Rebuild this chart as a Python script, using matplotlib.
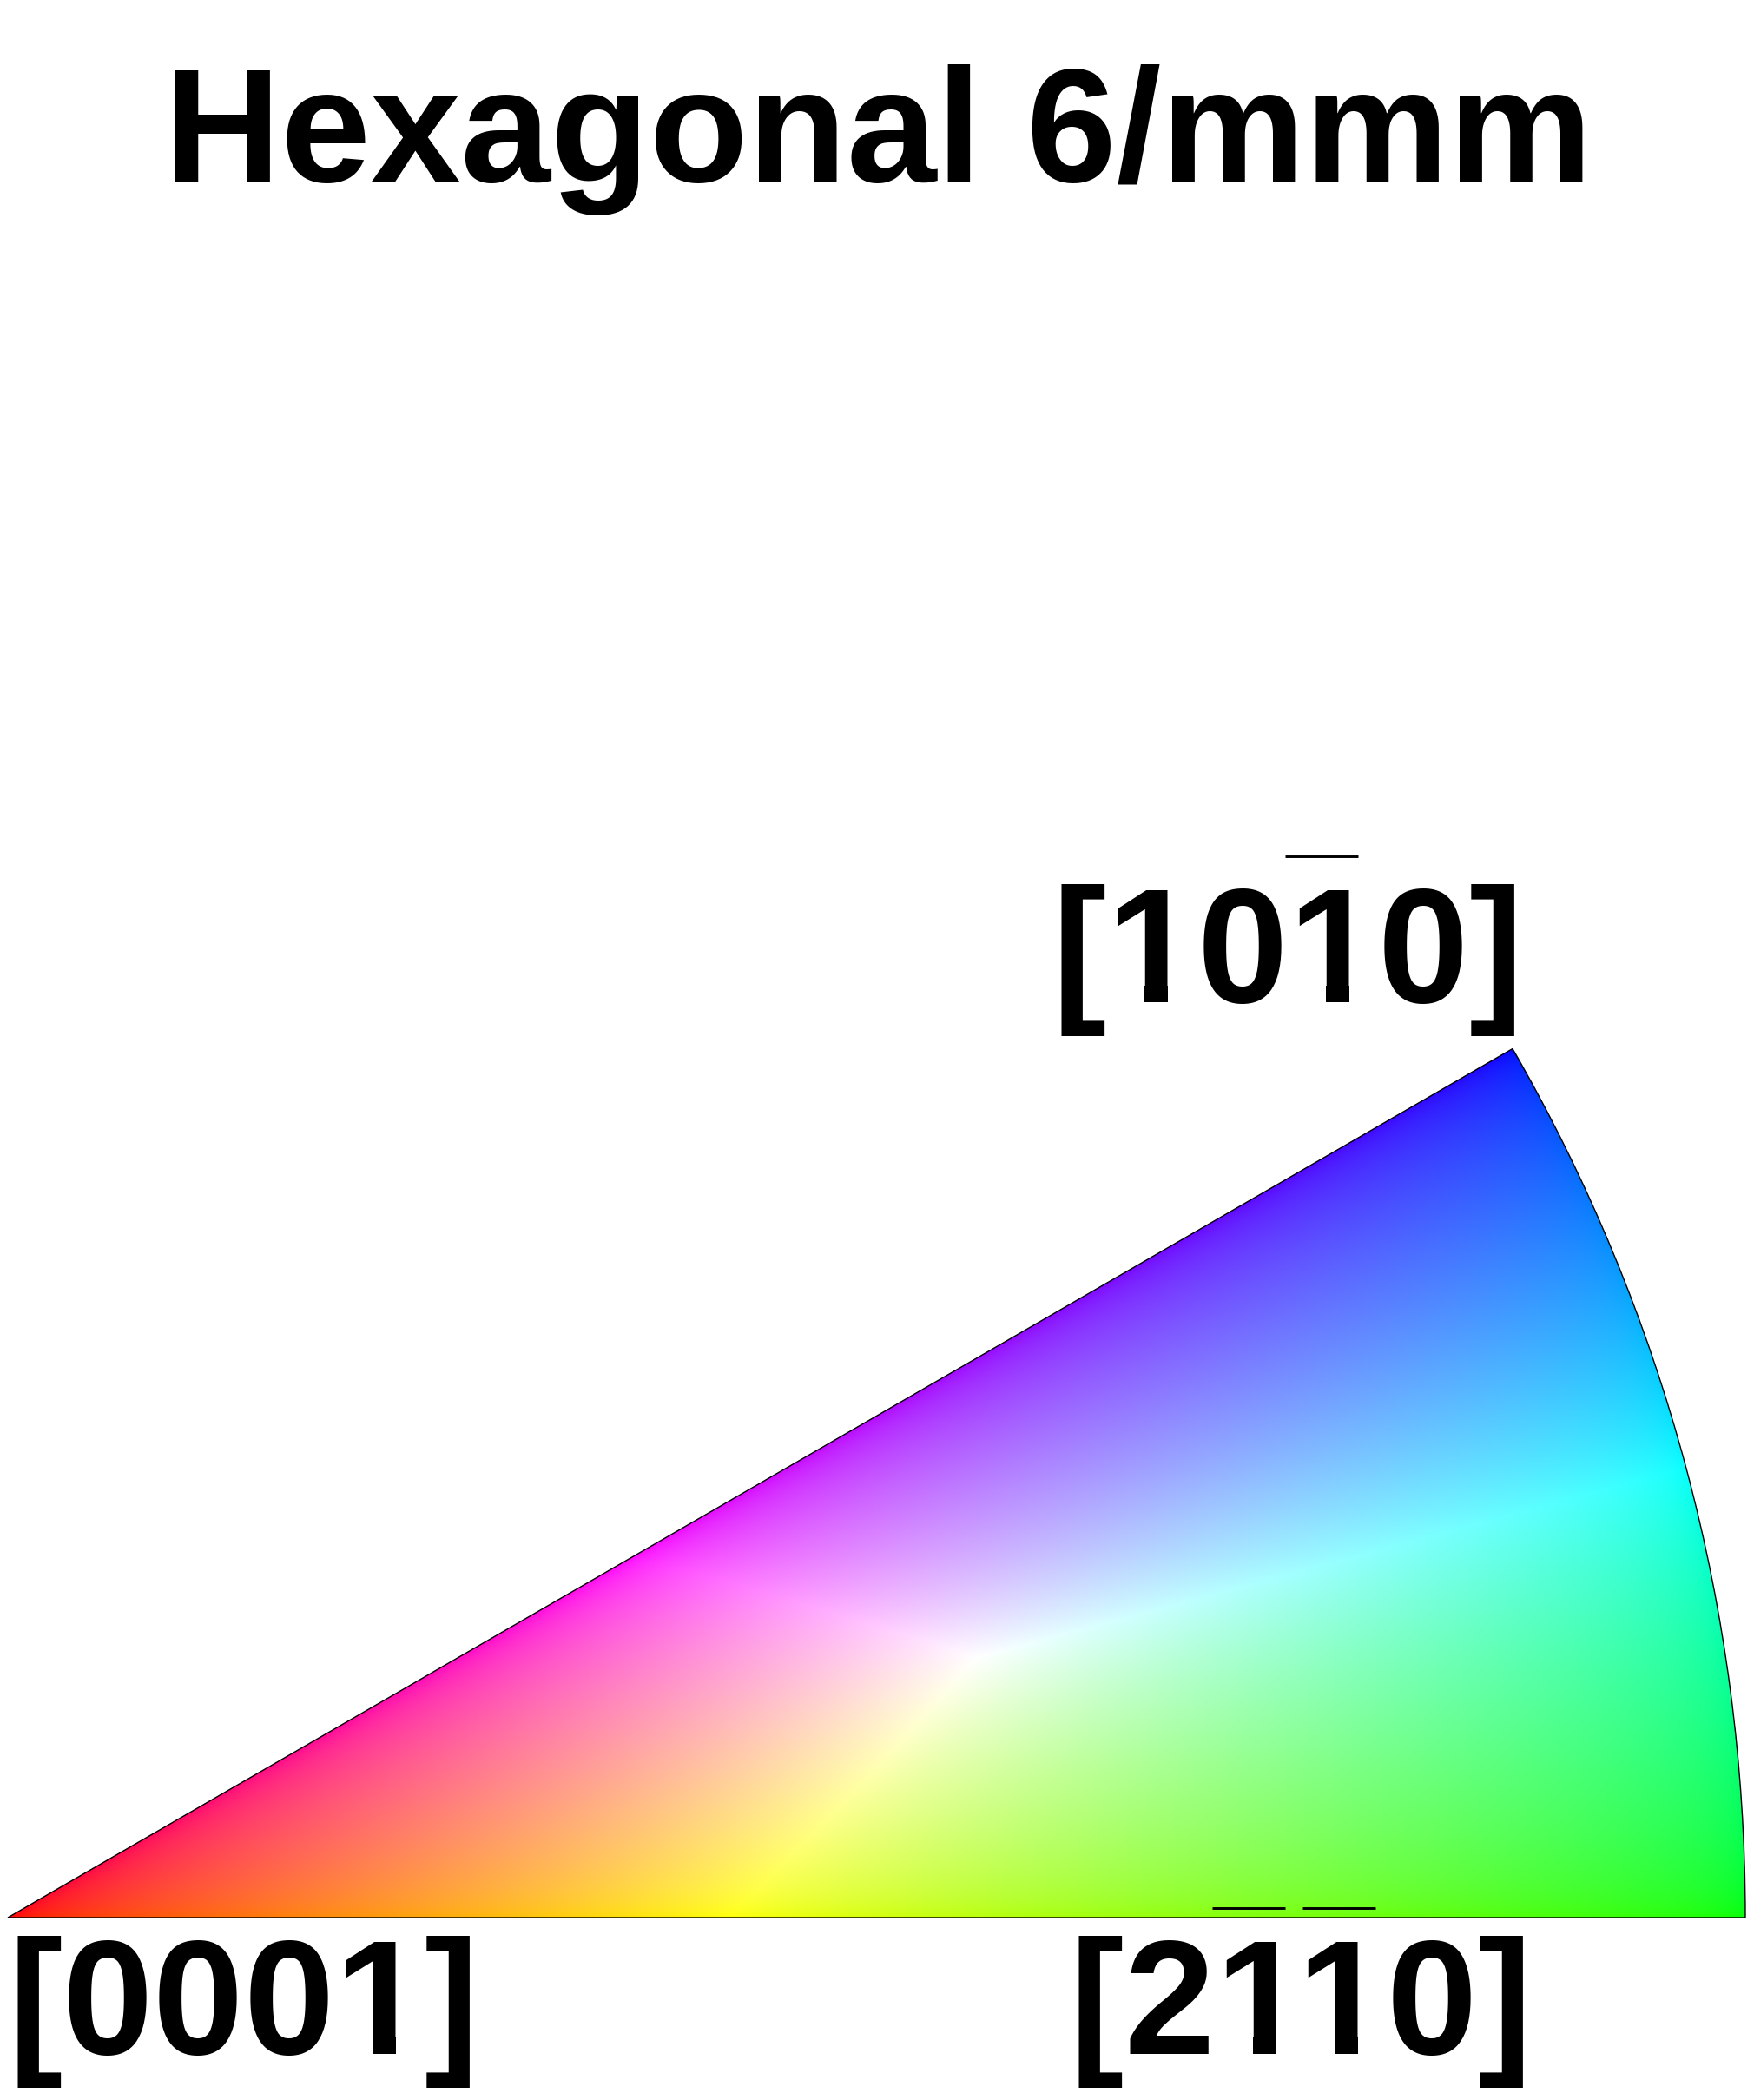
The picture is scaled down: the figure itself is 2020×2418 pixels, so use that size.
import numpy as np
import matplotlib
matplotlib.use("Agg")
import matplotlib.pyplot as plt
from matplotlib.patches import Wedge, Rectangle
from matplotlib.font_manager import get_font, findfont

# chart content
title = "Hexagonal 6/mmm"
sector_deg = 30.0                     # fundamental sector for 6/mmm
polar_max_deg = 90.0                  # [0001] -> equator
corner_labels = ["[0001]", "[2110]", "[1010]"]
overbar_idx = [[], [2, 3], [3]]       # characters carrying a bar
gamma = 0.5

# layout (pixels)
W, H = 2020, 2418
cx, cy, R = 9, 2208, 2001
title_pos = (1011, 209)
label_pos = [(280.5, 2365), (1498, 2365), (1483, 1154)]
size = 135
font = dict(family="Liberation Sans", fontweight="bold")

fig = plt.figure(figsize=(W / 100, H / 100), dpi=100)
ax = fig.add_axes([0, 0, 1, 1])
ax.set_xlim(0, W)
ax.set_ylim(H, 0)
ax.axis("off")

# IPF colouring of the sector
top = cy - R * np.sin(np.radians(sector_deg))
nx, ny = R + 1, int(cy - top) + 1
xx, yy = np.meshgrid(np.linspace(cx, cx + R, nx), np.linspace(top, cy, ny))
dx, dy = xx - cx, cy - yy
rho = np.hypot(dx, dy) / R
theta = np.clip(np.degrees(2 * np.arctan(rho)) / polar_max_deg, 0, 1)
phi = np.clip(np.degrees(np.arctan2(dy, dx)) / sector_deg, 0, 1)
rgb = np.stack([1 - theta, theta * (1 - phi), theta * phi], axis=-1)
rgb = rgb / np.maximum(rgb.max(axis=-1, keepdims=True), 1e-9)
rgb = np.clip(rgb, 0, 1) ** gamma

im = ax.imshow(rgb, extent=(cx, cx + R, cy, top), origin="upper",
               interpolation="bilinear", zorder=1)
wedge = Wedge((cx, cy), R, -sector_deg, 0, facecolor="none",
              edgecolor="black", lw=1.0, zorder=2)
ax.add_patch(wedge)
im.set_clip_path(wedge)

ax.text(*title_pos, title, ha="center", va="baseline", fontsize=134, **font)


# shape of the rendered "1" (Liberation has a foot, the reference has none)
def one_shape():
    f2 = plt.figure(figsize=(4, 4), dpi=100)
    f2.text(0.5, 0.5, "1", ha="center", va="baseline", fontsize=size, **font)
    f2.canvas.draw()
    a = np.asarray(f2.canvas.buffer_rgba())[:, :, 0]
    plt.close(f2)
    ink = a < 200
    rows = np.where(ink.any(axis=1))[0]
    cols = np.where(ink.any(axis=0))[0]
    t, b = rows.min(), rows.max()
    mid = int(t + 0.65 * (b - t))
    sc = np.where(ink[mid])[0]
    sl, sr = sc.min(), sc.max()
    foot = np.where(ink[mid:, sl - 3])[0]
    ft_row = foot.min() + mid if foot.size else None
    lim = ft_row if ft_row is not None else b
    fl = np.where(ink[:lim].any(axis=0))[0].min()
    return dict(il=cols.min() - 200, ir=cols.max() - 200, sl=sl - 200,
                sr=sr - 200, fl=fl - 200, bot=b - 200,
                foot=None if ft_row is None else ft_row - 200)


shape = one_shape()

probes = [ax.text(x, y, lab, ha="center", va="baseline", fontsize=size,
                  alpha=0, **font)
          for lab, (x, y) in zip(corner_labels, label_pos)]
fig.canvas.draw()
rend = fig.canvas.get_renderer()
prop = probes[0].get_fontproperties()


def ink_w(s):
    return rend.get_text_width_height_descent(s, prop, ismath=False)[0] if s else 0


ft = get_font(findfont(prop))
ft.set_size(size, 100)
try:
    from matplotlib.ft2font import Kerning
    kmode = Kerning.DEFAULT
except ImportError:
    from matplotlib.ft2font import KERNING_DEFAULT as kmode


def kerning(a, b):
    try:
        return ft.get_kerning(ft.get_char_index(ord(a)),
                              ft.get_char_index(ord(b)), kmode) / 64
    except Exception:
        return 0.0


for t, idxs, (x, y) in zip(probes, overbar_idx, label_pos):
    s = t.get_text()
    x0 = t.get_window_extent(rend).x0
    t.remove()
    y = round(y)
    for i, c in enumerate(s):
        cen = round(x0 + ink_w(s[:i + 1]) - ink_w(c) / 2)
        ax.text(cen, y, c, ha="center", va="baseline", fontsize=size,
                zorder=3, **font)
        if c != "1":
            continue
        if shape["foot"] is not None:
            y_top = y + shape["foot"] - 1
            hgt = shape["bot"] - shape["foot"] + 4
            ax.add_patch(Rectangle((cen + shape["il"] - 2, y_top),
                                   shape["sl"] - shape["il"] + 2, hgt,
                                   facecolor="white", lw=0, zorder=4))
            ax.add_patch(Rectangle((cen + shape["sr"] + 1, y_top),
                                   shape["ir"] - shape["sr"] + 2, hgt,
                                   facecolor="white", lw=0, zorder=4))
        if i in idxs:
            kern = kerning(s[i - 1], c) if i > 0 else 0.0
            bc = cen + (shape["fl"] + shape["sr"] + 1) / 2 - kern - 3
            ax.plot([bc - 42, bc + 42], [y - 168, y - 168], color="black",
                    lw=2.1, solid_capstyle="butt", zorder=5)

fig.savefig("out.png", dpi=100)
